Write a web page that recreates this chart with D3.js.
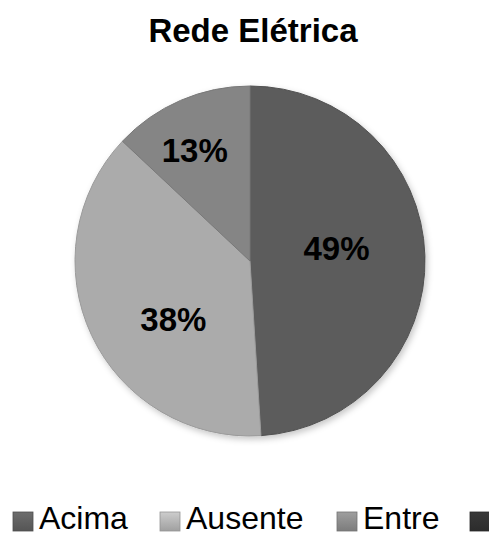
<!DOCTYPE html>
<html>
<head>
<meta charset="utf-8">
<script src="https://cdn.jsdelivr.net/npm/d3@7/dist/d3.min.js"></script>
<style>
  html, body { margin: 0; padding: 0; background: #fff; }
  svg { display: block; }
</style>
</head>
<body>
<svg id="chart" width="489" height="537"></svg>
<script>
const title = "Rede Elétrica";
const categories = ["Acima", "Ausente", "Entre", "Abaixo"];
const values = [49, 38, 13, 0];
const labels = ["49%", "38%", "13%", ""];
const colors = ["#626262", "#b8b8b8", "#8f8f8f", "#333333"];

const svg = d3.select("#chart");
const W = 489;
const cx = 250, cy = 261, R = 175;
const FONT = "Liberation Sans, Arial, sans-serif";

const defs = svg.append("defs");
const f = defs.append("filter").attr("id", "sh").attr("x", "-20%").attr("y", "-20%").attr("width", "140%").attr("height", "140%");
f.append("feDropShadow").attr("dx", 2).attr("dy", 3).attr("stdDeviation", 3).attr("flood-color", "#000").attr("flood-opacity", 0.22);

colors.forEach((c, i) => {
  const base = d3.color(c);
  const g = defs.append("radialGradient").attr("id", "g" + i)
    .attr("gradientUnits", "userSpaceOnUse").attr("cx", cx).attr("cy", cy).attr("r", R);
  g.append("stop").attr("offset", "0%").attr("stop-color", base.brighter(0.05));
  g.append("stop").attr("offset", "93%").attr("stop-color", base);
  g.append("stop").attr("offset", "100%").attr("stop-color", base.darker(0.2));
  const lg = defs.append("linearGradient").attr("id", "s" + i).attr("x1", 0).attr("y1", 0).attr("x2", 0).attr("y2", 1);
  lg.append("stop").attr("offset", "0%").attr("stop-color", base.brighter(0.3));
  lg.append("stop").attr("offset", "45%").attr("stop-color", base);
  lg.append("stop").attr("offset", "100%").attr("stop-color", base.darker(0.4));
});

svg.append("text").attr("x", 253).attr("y", 42).attr("text-anchor", "middle")
  .attr("font-family", FONT).attr("font-weight", "bold")
  .attr("font-size", 33).attr("fill", "#000").text(title);

const data = categories.map((c, i) => ({ name: c, value: values[i], label: labels[i], i }));
const pie = d3.pie().value(d => d.value).sort(null);
const arcs = pie(data);
const arc = d3.arc().innerRadius(0).outerRadius(R);

const g = svg.append("g").attr("transform", `translate(${cx},${cy})`);
g.append("g").attr("filter", "url(#sh)").selectAll("path").data(arcs.filter(a => a.data.value > 0)).join("path")
  .attr("d", arc).attr("fill", d => `url(#g${d.data.i})`)
  .attr("stroke", d => d3.color(colors[d.data.i]).darker(0.5)).attr("stroke-width", 1);

// label placement: radius factor and angle shift (degrees) per slice, mimicking best-fit placement
const labelPlace = { "Acima": [0.50, -7], "Ausente": [0.55, -12], "Entre": [0.71, -3] };
g.selectAll("text.lbl").data(arcs.filter(a => a.data.label)).join("text")
  .attr("class", "lbl")
  .each(function(d) {
    const p = labelPlace[d.data.name] || [0.6, 0];
    const a = (d.startAngle + d.endAngle) / 2 + p[1] * Math.PI / 180;
    const rr = R * p[0];
    d3.select(this).attr("x", rr * Math.sin(a)).attr("y", -rr * Math.cos(a));
  })
  .attr("text-anchor", "middle").attr("dy", "0.36em")
  .attr("font-family", FONT).attr("font-weight", "bold")
  .attr("font-size", 33).attr("fill", "#000").text(d => d.data.label);

// legend (the last entry's text falls outside the picture in the reference, so only its swatch is visible)
const legX = [13, 160, 337, 470];
const lg = svg.append("g");
data.forEach((d, i) => {
  const x = legX[i];
  lg.append("rect").attr("x", x).attr("y", 512).attr("width", 20).attr("height", 19)
    .attr("fill", `url(#s${i})`).attr("stroke", d3.color(colors[i]).darker(0.6)).attr("stroke-width", 0.8);
  if (x + 26 < W) {
    const t = lg.append("text").attr("x", x + 26).attr("y", 529)
      .attr("font-family", FONT).attr("font-size", 32)
      .attr("fill", "#000");
    if (x + 26 + 40 < W) t.text(d.name);
  }
});
</script>
</body>
</html>
